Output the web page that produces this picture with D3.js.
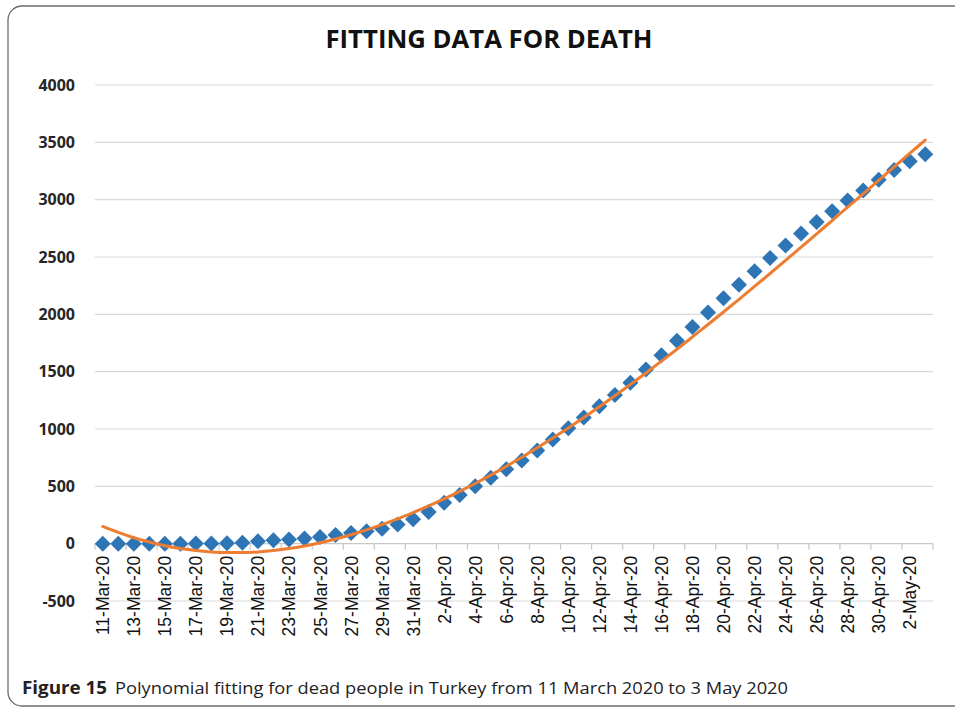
<!DOCTYPE html>
<html><head><meta charset="utf-8">
<script src="https://cdn.jsdelivr.net/npm/d3@7"></script>
<style>body{margin:0;background:#fff}svg{display:block}</style>
</head><body><svg id="c" width="955" height="710"></svg>
<script>
const dates = ["11-Mar-20","12-Mar-20","13-Mar-20","14-Mar-20","15-Mar-20","16-Mar-20","17-Mar-20","18-Mar-20","19-Mar-20","20-Mar-20","21-Mar-20","22-Mar-20","23-Mar-20","24-Mar-20","25-Mar-20","26-Mar-20","27-Mar-20","28-Mar-20","29-Mar-20","30-Mar-20","31-Mar-20","1-Apr-20","2-Apr-20","3-Apr-20","4-Apr-20","5-Apr-20","6-Apr-20","7-Apr-20","8-Apr-20","9-Apr-20","10-Apr-20","11-Apr-20","12-Apr-20","13-Apr-20","14-Apr-20","15-Apr-20","16-Apr-20","17-Apr-20","18-Apr-20","19-Apr-20","20-Apr-20","21-Apr-20","22-Apr-20","23-Apr-20","24-Apr-20","25-Apr-20","26-Apr-20","27-Apr-20","28-Apr-20","29-Apr-20","30-Apr-20","1-May-20","2-May-20","3-May-20"];
const deaths = [0,0,0,0,0,0,1,2,3,9,21,30,37,44,59,75,92,108,131,168,214,277,356,425,501,574,649,725,812,908,1006,1101,1198,1296,1403,1518,1643,1769,1890,2017,2140,2259,2376,2491,2600,2706,2805,2900,2992,3081,3174,3258,3336,3397];
const fitted = [150,98,52,14,-18,-42,-60,-72,-78,-78,-72,-60,-43,-20,8,41,78,120,166,216,271,329,390,456,525,598,674,753,836,921,1009,1100,1194,1290,1388,1489,1592,1696,1803,1911,2020,2131,2243,2356,2471,2586,2701,2818,2934,3051,3169,3286,3403,3520];
const yTicks = [-500,0,500,1000,1500,2000,2500,3000,3500,4000];
const titleText = "FITTING DATA FOR DEATH";
const captionBold = "Figure 15";
const captionText = "Polynomial fitting for dead people in Turkey from 11 March 2020 to 3 May 2020";

const svg = d3.select("#c");
// outer frame
svg.append("rect").attr("x",8).attr("y",6).attr("width",980).attr("height",700)
  .attr("rx",14).attr("fill","none").attr("stroke","#6b6b6b").attr("stroke-width",1.3);

const L=95, R=933;
const x = d3.scaleBand().domain(dates).range([L,R]).padding(0);
const y = d3.scaleLinear().domain([-500,4000]).range([601,85]);

// gridlines
svg.append("g").selectAll("line").data(yTicks.filter(v=>v!==0)).join("line")
  .attr("x1",L).attr("x2",R).attr("y1",d=>y(d)).attr("y2",d=>y(d))
  .attr("stroke","#d9d9d9").attr("stroke-width",1.2);

// y axis labels
const ya = d3.axisLeft(y).tickValues(yTicks).tickSize(0).tickPadding(0).tickFormat(d=>String(d));
const yg = svg.append("g").attr("transform",`translate(75,0)`).call(ya);
yg.select(".domain").remove();
yg.selectAll("text").attr("font-family","'Open Sans', sans-serif").attr("font-weight","bold")
  .attr("font-size",16).attr("fill","#262626");

// x axis line at 0
svg.append("line").attr("x1",L).attr("x2",R).attr("y1",y(0)).attr("y2",y(0))
  .attr("stroke","#c8c8c8").attr("stroke-width",1.2);
const tickIdx = d3.range(0,dates.length+1,2);
svg.append("g").selectAll("line").data(tickIdx).join("line")
  .attr("x1",i=>L+i*x.bandwidth()).attr("x2",i=>L+i*x.bandwidth())
  .attr("y1",y(0)).attr("y2",y(0)+6).attr("stroke","#c8c8c8").attr("stroke-width",1.2);

// x labels
svg.append("g").selectAll("text").data(dates.filter((d,i)=>i%2===0)).join("text")
  .attr("transform",d=>`translate(${x(d)+x.bandwidth()/2+6.5},${y(0)+12}) rotate(-90)`)
  .attr("text-anchor","end").attr("font-family","'Liberation Sans', Arial, sans-serif")
  .attr("font-size",17.5).attr("fill","#111").text(d=>d);

// markers
const s = 8;
svg.append("g").selectAll("path").data(deaths).join("path")
  .attr("transform",(d,i)=>`translate(${x(dates[i])+x.bandwidth()/2},${y(d)})`)
  .attr("d",`M0,${-s}L${s},0L0,${s}L${-s},0Z`).attr("fill","#2e75b6");

// fitted line
const line = d3.line().x((d,i)=>x(dates[i])+x.bandwidth()/2).y(d=>y(d)).curve(d3.curveMonotoneX);
svg.append("path").datum(fitted).attr("d",line).attr("fill","none")
  .attr("stroke","#ed7d31").attr("stroke-width",3).attr("stroke-linecap","round");

// title
svg.append("text").attr("x",489).attr("y",48).attr("text-anchor","middle")
  .attr("font-family","'Open Sans', sans-serif").attr("font-weight","bold").attr("font-size",25.5)
  .attr("fill","#111").attr("textLength",327).attr("lengthAdjust","spacingAndGlyphs").text(titleText);

// caption
const cap = svg.append("text").attr("x",22).attr("y",694).attr("font-family","'Open Sans', sans-serif")
  .attr("font-size",17).attr("fill","#222");
cap.append("tspan").attr("font-weight","bold").attr("textLength",85).attr("lengthAdjust","spacingAndGlyphs").text(captionBold);
cap.append("tspan").attr("x",115).attr("textLength",673).attr("lengthAdjust","spacingAndGlyphs").text(captionText);
</script></body></html>
